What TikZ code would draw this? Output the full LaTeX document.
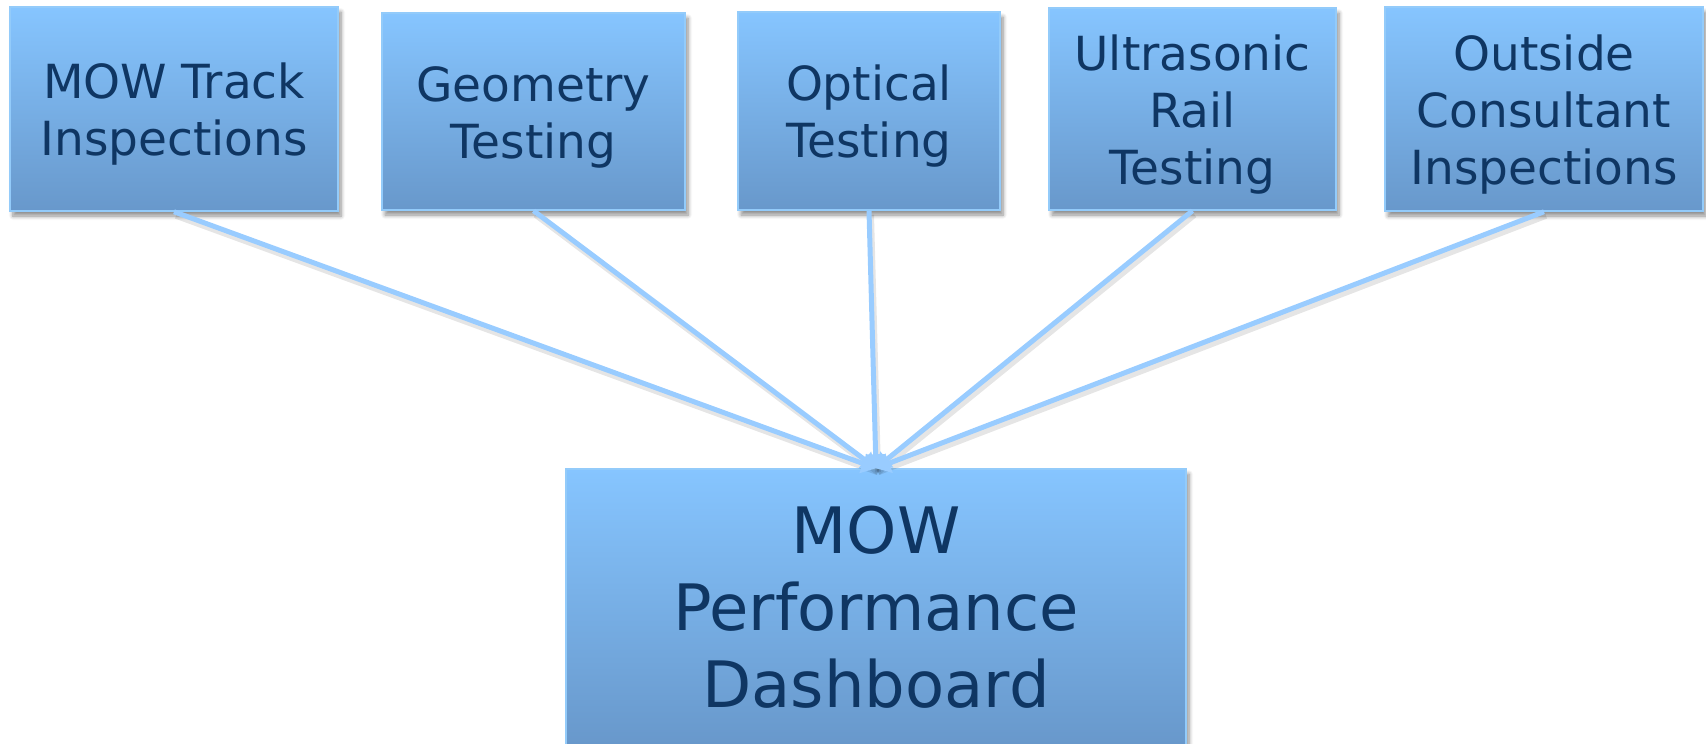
\documentclass[tikz,border=0pt]{standalone}
\usepackage{fontspec}
\setmainfont{DejaVu Sans}
\usetikzlibrary{shadows.blur,arrows.meta}
\definecolor{boxtop}{HTML}{86C5FF}
\definecolor{boxbot}{HTML}{6898CB}
\definecolor{boxedge}{HTML}{93CBFA}
\definecolor{txt}{HTML}{0F3663}
\definecolor{conn}{HTML}{99CCFF}
\newcommand\toplift{\rule{0pt}{46pt}}
\tikzset{
  srcbox/.style={rectangle, draw=boxedge, line width=1.5pt, top color=boxtop, bottom color=boxbot,
    align=center, text=txt, inner sep=0pt,
    font=\fontsize{47}{57}\selectfont,
    blur shadow={shadow xshift=3pt, shadow yshift=-5pt, shadow blur steps=6, shadow blur radius=4pt, shadow opacity=45}},
  dashbox/.style={srcbox, font=\fontsize{64}{77}\selectfont},
  conshadow/.style={draw=black, opacity=0.1, line width=6pt},
  connector/.style={draw=conn, line width=5pt, -{Triangle[width=20pt,length=14pt]}}
}
\begin{document}
\begin{tikzpicture}[x=1pt,y=-1pt]
\useasboundingbox (0,0) rectangle (1706,744);
\node[srcbox, minimum width=328pt, minimum height=204pt] (b1) at (174,109) {\toplift MOW Track\\Inspections};
\node[srcbox, minimum width=303pt, minimum height=197pt] (b2) at (533.5,111.5) {\toplift Geometry\\Testing};
\node[srcbox, minimum width=262pt, minimum height=198pt] (b3) at (869,111) {\toplift Optical\\Testing};
\node[srcbox, minimum width=287pt, minimum height=202pt] (b4) at (1192.5,109) {\toplift Ultrasonic\\Rail\\Testing};
\node[srcbox, minimum width=318pt, minimum height=204pt] (b5) at (1544,109) {\toplift Outside\\Consultant\\Inspections};
\node[dashbox, minimum width=620pt, minimum height=276pt] (d) at (876,607) {MOW\\Performance\\Dashboard};
\foreach \b in {b1,b2,b3,b4,b5}{
  \draw[conshadow] ([shift={(2,4)}]\b.south) -- ([shift={(2,4)}]d.north);
}
\foreach \b in {b1,b2,b3,b4,b5}{
  \draw[connector] (\b.south) -- (d.north);
}
\end{tikzpicture}
\end{document}
